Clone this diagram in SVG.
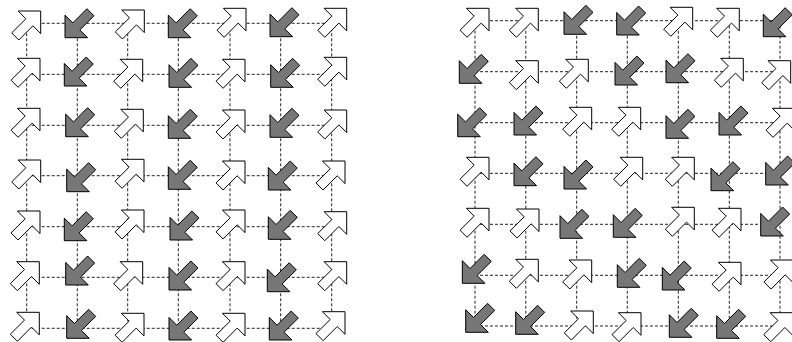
<svg xmlns="http://www.w3.org/2000/svg" xmlns:xlink="http://www.w3.org/1999/xlink" width="792" height="342" viewBox="0 0 792 342">
<style>
.grid{stroke:#222;stroke-width:1;stroke-dasharray:3 2;fill:none}
.wa{fill:#ffffff;stroke:#000;stroke-width:1;stroke-linejoin:miter}
.ga{fill:#777777;stroke:#000;stroke-width:1;stroke-linejoin:miter}
</style>
<defs>
<polygon id="w" class="wa" points="0,0 0,22.6 -7.8,14.8 -21.9,29 -29,21.9 -14.8,7.8 -22.6,0"/>
<polygon id="g" class="ga" points="0,0 0,-22.6 7.8,-14.8 21.9,-29 29,-21.9 14.8,-7.8 22.6,0"/>
</defs>
<rect width="792" height="342" fill="#fff"/>
<g id="connectors" class="grid">
<path d="M26.7,23.3H331.7M26.7,74.3H331.7M26.7,125.3H331.7M26.7,175.7H331.7M26.7,226.7H331.7M26.7,277.3H331.7M26.7,328.3H331.7"/>
<path d="M26.7,23.3V328.3M77.3,23.3V328.3M127.7,23.3V328.3M178.3,23.3V328.3M230,23.3V328.3M280.7,23.3V328.3M331.7,23.3V328.3"/>
<path d="M475,20.7H780M475,71.7H780M475,122.7H780M475,173.3H780M475,224.3H780M475,275.3H780M475,326H780"/>
<path d="M475,20.7V326M525.8,20.7V326M576.7,20.7V326M627.3,20.7V326M678.3,20.7V326M729.3,20.7V326M780,20.7V326"/>
</g>
<g id="left-grid">
<g id="L-r1c1"><use href="#w" x="40.7" y="11"/></g>
<g id="L-r1c2"><use href="#g" x="65" y="37.7"/></g>
<g id="L-r1c3"><use href="#w" x="144.3" y="10"/></g>
<g id="L-r1c4"><use href="#g" x="168.3" y="37.7"/></g>
<g id="L-r1c5"><use href="#w" x="246" y="8.3"/></g>
<g id="L-r1c6"><use href="#g" x="270" y="36.7"/></g>
<g id="L-r1c7"><use href="#w" x="346.7" y="8.3"/></g>
<g id="L-r2c1"><use href="#w" x="40" y="58.3"/></g>
<g id="L-r2c2"><use href="#g" x="64.3" y="86"/></g>
<g id="L-r2c3"><use href="#w" x="142.7" y="59.3"/></g>
<g id="L-r2c4"><use href="#g" x="169" y="87.3"/></g>
<g id="L-r2c5"><use href="#w" x="245" y="59.3"/></g>
<g id="L-r2c6"><use href="#g" x="270.7" y="87.3"/></g>
<g id="L-r2c7"><use href="#w" x="346.7" y="57.3"/></g>
<g id="L-r3c1"><use href="#w" x="40" y="108.3"/></g>
<g id="L-r3c2"><use href="#g" x="65.7" y="136.7"/></g>
<g id="L-r3c3"><use href="#w" x="143.3" y="109.3"/></g>
<g id="L-r3c4"><use href="#g" x="168.3" y="138.3"/></g>
<g id="L-r3c5"><use href="#w" x="245" y="110"/></g>
<g id="L-r3c6"><use href="#g" x="270" y="137.3"/></g>
<g id="L-r3c7"><use href="#w" x="346.7" y="110"/></g>
<g id="L-r4c1"><use href="#w" x="40.7" y="160"/></g>
<g id="L-r4c2"><use href="#g" x="66.7" y="191.7"/></g>
<g id="L-r4c3"><use href="#w" x="144" y="159.3"/></g>
<g id="L-r4c4"><use href="#g" x="168.3" y="189.3"/></g>
<g id="L-r4c5"><use href="#w" x="245" y="161"/></g>
<g id="L-r4c6"><use href="#g" x="268.3" y="190"/></g>
<g id="L-r4c7"><use href="#w" x="345" y="161"/></g>
<g id="L-r5c1"><use href="#w" x="40" y="211"/></g>
<g id="L-r5c2"><use href="#g" x="64.3" y="240.7"/></g>
<g id="L-r5c3"><use href="#w" x="144" y="210"/></g>
<g id="L-r5c4"><use href="#g" x="170" y="240"/></g>
<g id="L-r5c5"><use href="#w" x="245" y="210"/></g>
<g id="L-r5c6"><use href="#g" x="268.3" y="239.3"/></g>
<g id="L-r5c7"><use href="#w" x="346.7" y="211.7"/></g>
<g id="L-r6c1"><use href="#w" x="39.3" y="261.7"/></g>
<g id="L-r6c2"><use href="#g" x="65.7" y="285"/></g>
<g id="L-r6c3"><use href="#w" x="142.7" y="261.7"/></g>
<g id="L-r6c4"><use href="#g" x="169" y="290"/></g>
<g id="L-r6c5"><use href="#w" x="245" y="261.7"/></g>
<g id="L-r6c6"><use href="#g" x="267.3" y="291.7"/></g>
<g id="L-r6c7"><use href="#w" x="346.7" y="261.7"/></g>
<g id="L-r7c1"><use href="#w" x="39.3" y="312.3"/></g>
<g id="L-r7c2"><use href="#g" x="66.7" y="338.3"/></g>
<g id="L-r7c3"><use href="#w" x="144" y="313.3"/></g>
<g id="L-r7c4"><use href="#g" x="169" y="340"/></g>
<g id="L-r7c5"><use href="#w" x="245" y="313.3"/></g>
<g id="L-r7c6"><use href="#g" x="269.3" y="340"/></g>
<g id="L-r7c7"><use href="#w" x="345" y="311.7"/></g>
</g>
<g id="right-grid">
<g id="R-r1c1"><use href="#w" x="489" y="8.3"/></g>
<g id="R-r1c2"><use href="#w" x="538.3" y="8.3"/></g>
<g id="R-r1c3"><use href="#g" x="564" y="34.3"/></g>
<g id="R-r1c4"><use href="#g" x="616.7" y="35"/></g>
<g id="R-r1c5"><use href="#w" x="692.7" y="7.3"/></g>
<g id="R-r1c6"><use href="#w" x="739.3" y="8.3"/></g>
<g id="R-r1c7"><use href="#g" x="763.3" y="36.7"/></g>
<g id="R-r2c1"><use href="#g" x="459.3" y="83.3"/></g>
<g id="R-r2c2"><use href="#w" x="538.3" y="60.7"/></g>
<g id="R-r2c3"><use href="#w" x="588.3" y="59.3"/></g>
<g id="R-r2c4"><use href="#g" x="615" y="85"/></g>
<g id="R-r2c5"><use href="#g" x="666" y="82.7"/></g>
<g id="R-r2c6"><use href="#w" x="743.3" y="58.3"/></g>
<g id="R-r2c7"><use href="#w" x="790.7" y="60.7"/></g>
<g id="R-r3c1"><use href="#g" x="457.7" y="136.7"/></g>
<g id="R-r3c2"><use href="#g" x="514" y="135"/></g>
<g id="R-r3c3"><use href="#w" x="591.7" y="107.3"/></g>
<g id="R-r3c4"><use href="#w" x="640.7" y="107.3"/></g>
<g id="R-r3c5"><use href="#g" x="666" y="138.3"/></g>
<g id="R-r3c6"><use href="#g" x="719" y="135"/></g>
<g id="R-r3c7"><use href="#w" x="795" y="108.3"/></g>
<g id="R-r4c1"><use href="#w" x="489" y="157.3"/></g>
<g id="R-r4c2"><use href="#g" x="514" y="185.7"/></g>
<g id="R-r4c3"><use href="#g" x="564" y="189"/></g>
<g id="R-r4c4"><use href="#w" x="642.7" y="157.3"/></g>
<g id="R-r4c5"><use href="#w" x="694.3" y="157.3"/></g>
<g id="R-r4c6"><use href="#g" x="711" y="190.7"/></g>
<g id="R-r4c7"><use href="#g" x="765.7" y="185"/></g>
<g id="R-r5c1"><use href="#w" x="489" y="208.3"/></g>
<g id="R-r5c2"><use href="#w" x="539" y="209"/></g>
<g id="R-r5c3"><use href="#g" x="560" y="238.3"/></g>
<g id="R-r5c4"><use href="#g" x="613.3" y="237.3"/></g>
<g id="R-r5c5"><use href="#w" x="694.3" y="207.3"/></g>
<g id="R-r5c6"><use href="#w" x="741" y="208.3"/></g>
<g id="R-r5c7"><use href="#g" x="760.7" y="236"/></g>
<g id="R-r6c1"><use href="#g" x="462.3" y="283.3"/></g>
<g id="R-r6c2"><use href="#w" x="538.3" y="259.3"/></g>
<g id="R-r6c3"><use href="#w" x="591.7" y="260"/></g>
<g id="R-r6c4"><use href="#g" x="617.3" y="287.3"/></g>
<g id="R-r6c5"><use href="#g" x="662.3" y="290"/></g>
<g id="R-r6c6"><use href="#w" x="741" y="262.3"/></g>
<g id="R-r6c7"><use href="#w" x="793" y="260"/></g>
<g id="R-r7c1"><use href="#g" x="465.7" y="332.3"/></g>
<g id="R-r7c2"><use href="#g" x="515.7" y="334.3"/></g>
<g id="R-r7c3"><use href="#w" x="593.3" y="311"/></g>
<g id="R-r7c4"><use href="#w" x="641" y="312.7"/></g>
<g id="R-r7c5"><use href="#g" x="669.3" y="337.3"/></g>
<g id="R-r7c6"><use href="#g" x="716.7" y="338.3"/></g>
<g id="R-r7c7"><use href="#w" x="792.7" y="312.7"/></g>
</g>
</svg>
